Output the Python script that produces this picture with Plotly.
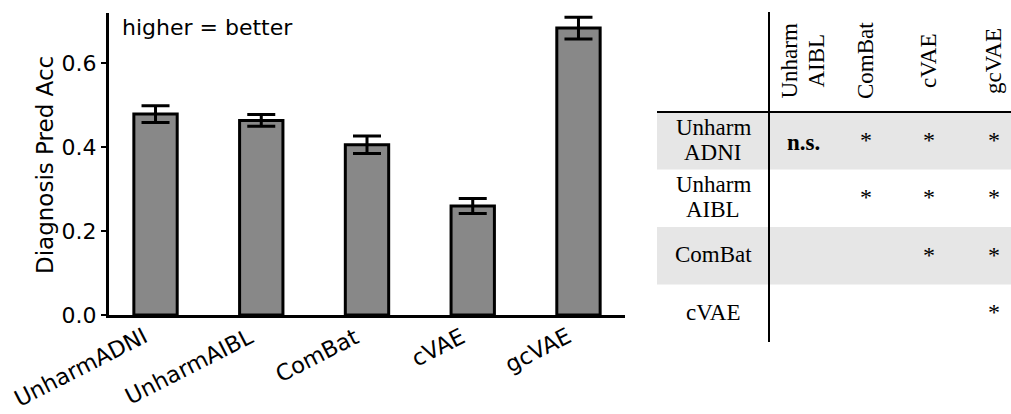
import plotly.graph_objects as go

# ---- bar chart data ----
methods = ["UnharmADNI", "UnharmAIBL", "ComBat", "cVAE", "gcVAE"]
pred_acc = [0.479, 0.464, 0.406, 0.260, 0.684]
pred_err = [0.020, 0.014, 0.021, 0.018, 0.026]

# ---- significance table data ----
row_labels = ["Unharm\nADNI", "Unharm\nAIBL", "ComBat", "cVAE"]
col_labels = ["Unharm\nAIBL", "ComBat", "cVAE", "gcVAE"]
sig_cells = [
    ["n.s.", "*", "*", "*"],
    ["", "*", "*", "*"],
    ["", "", "*", "*"],
    ["", "", "", "*"],
]

W, H = 1011, 414


def px(x):
    return x / W


def py(y):
    return 1 - y / H


fig = go.Figure()
fig.add_trace(go.Bar(
    x=methods,
    y=pred_acc,
    width=0.41,
    marker=dict(color="#888888", line=dict(color="black", width=3)),
    error_y=dict(type="data", array=pred_err, color="black", thickness=3, width=14),
    showlegend=False,
))

sans = "DejaVu Sans"
serif = "Liberation Serif"

annotations = [
    dict(text="higher = better", x=px(120), y=py(28), xref="paper", yref="paper",
         xanchor="left", yanchor="middle", showarrow=False,
         font=dict(family=sans, size=22, color="black")),
    dict(text="Diagnosis Pred Acc", x=px(45), y=py(165), xref="paper", yref="paper",
         xanchor="center", yanchor="middle", textangle=-90, showarrow=False,
         font=dict(family=sans, size=23, color="black")),
]

# rotated category labels, right/top aligned under each bar
for m in methods:
    annotations.append(dict(text=m, x=m, y=py(320), xref="x", yref="paper",
                            xanchor="right", yanchor="top", textangle=-27,
                            xshift=-1, showarrow=False,
                            font=dict(family=sans, size=22.5, color="black")))

shapes = []

# table geometry
tbl_left, tbl_right = 657, 1011
vline_x = 769
tbl_top, row_h = 112, 57.5
row_label_x = 713
col_x = [803, 866, 929, 994]
header_y = 61
line_gap = 25

for i, lab in enumerate(row_labels):
    y0 = tbl_top + i * row_h
    y1 = y0 + row_h
    yc = (y0 + y1) / 2
    if i % 2 == 0:
        shapes.append(dict(type="rect", xref="paper", yref="paper",
                           x0=px(tbl_left), x1=px(tbl_right), y0=py(y0), y1=py(y1),
                           fillcolor="#e6e6e6", line=dict(width=0), layer="below"))
    lines = lab.split("\n")
    n = len(lines)
    for k, ln in enumerate(lines):
        yk = yc - 1 + (k - (n - 1) / 2) * line_gap
        annotations.append(dict(text=ln, x=px(row_label_x), y=py(yk), xref="paper", yref="paper",
                                xanchor="center", yanchor="middle", showarrow=False,
                                font=dict(family=serif, size=23, color="black")))
    for j, cell in enumerate(sig_cells[i]):
        if not cell:
            continue
        if cell == "*":
            txt, yk, size = cell, yc - 1, 24
        else:
            txt, yk, size = "<b>%s</b>" % cell, yc + 2, 23
        annotations.append(dict(text=txt, x=px(col_x[j]), y=py(yk), xref="paper", yref="paper",
                                xanchor="center", yanchor="middle", showarrow=False,
                                font=dict(family=serif, size=size, color="black")))

for j, lab in enumerate(col_labels):
    lines = lab.split("\n")
    n = len(lines)
    for k, ln in enumerate(lines):
        xk = col_x[j] + (k - (n - 1) / 2) * 27
        annotations.append(dict(text=ln, x=px(xk), y=py(header_y), xref="paper", yref="paper",
                                xanchor="center", yanchor="middle", textangle=-90, showarrow=False,
                                font=dict(family=serif, size=23, color="black")))

tbl_bottom = tbl_top + len(row_labels) * row_h
shapes.append(dict(type="line", xref="paper", yref="paper",
                   x0=px(vline_x), x1=px(vline_x), y0=py(12), y1=py(tbl_bottom),
                   line=dict(color="black", width=2)))
shapes.append(dict(type="line", xref="paper", yref="paper",
                   x0=px(tbl_left), x1=px(tbl_right), y0=py(tbl_top), y1=py(tbl_top),
                   line=dict(color="black", width=2)))

fig.update_layout(
    width=W, height=H,
    margin=dict(l=0, r=0, t=0, b=0),
    paper_bgcolor="white", plot_bgcolor="white",
    font=dict(family=sans, size=22, color="black"),
    annotations=annotations,
    shapes=shapes,
    xaxis=dict(
        domain=[px(109), px(625)],
        range=[-0.44, 4.44],
        showline=True, linecolor="black", linewidth=3,
        ticks="", showticklabels=False, showgrid=False, zeroline=False,
        automargin=False,
    ),
    yaxis=dict(
        domain=[1 - 315 / H, 1 - 13 / H],
        range=[0, 0.72],
        tickvals=[0, 0.2, 0.4, 0.6], tickformat=".1f",
        showline=True, linecolor="black", linewidth=3,
        ticks="outside", ticklen=5, tickwidth=2, tickcolor="black",
        showgrid=False, zeroline=False,
        tickfont=dict(family=sans, size=22, color="black"),
        automargin=False,
    ),
)

fig.write_html("out.html")
